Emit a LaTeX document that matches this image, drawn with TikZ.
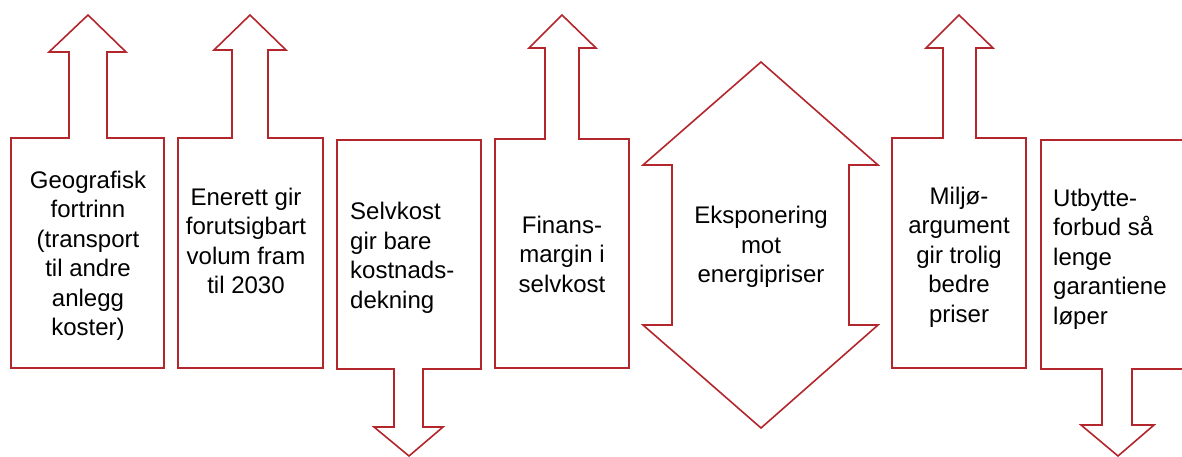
\documentclass[tikz,border=0pt]{standalone}
\usepackage{fontspec}
\setmainfont{Liberation Sans}
\definecolor{arrowred}{RGB}{178,38,44}
\tikzset{
  shapeline/.style={draw=arrowred, line width=1.6pt, line join=miter, fill=white},
  lbl/.style={font=\fontsize{24}{29.5}\selectfont, text=black, inner sep=0pt},
  lblc/.style={lbl, align=center},
  lbll/.style={lbl, align=left},
}
\begin{document}
\begin{tikzpicture}[x=1pt,y=-1pt]
\useasboundingbox (0,0) rectangle (1182,457);
\clip (0,0) rectangle (1182,457);
% shape 1
\draw[shapeline] (11,368) -- (11,138) -- (69,138) -- (69,52) -- (49,52) -- (88,15) -- (126,52) -- (107,52) -- (107,138) -- (164,138) -- (164,368) -- cycle;
% shape 2
\draw[shapeline] (178,368) -- (178,138) -- (232,138) -- (232,50) -- (214,50) -- (250,15) -- (286,50) -- (268,50) -- (268,138) -- (323,138) -- (323,368) -- cycle;
% shape 3 (down)
\draw[shapeline] (337,140) -- (481,140) -- (481,369) -- (423,369) -- (423,427) -- (443,427) -- (409,456) -- (374,427) -- (394,427) -- (394,369) -- (337,369) -- cycle;
% shape 4
\draw[shapeline] (495,368) -- (495,139) -- (545,139) -- (545,48) -- (529,48) -- (562,15) -- (596,48) -- (579,48) -- (579,139) -- (629,139) -- (629,368) -- cycle;
% shape 5 (up-down)
\draw[shapeline] (761,62) -- (878,165) -- (849,165) -- (849,325) -- (878,325) -- (761,428) -- (643,325) -- (672,325) -- (672,165) -- (643,165) -- cycle;
% shape 6
\draw[shapeline] (892,368) -- (892,138) -- (943,138) -- (943,48) -- (926,48) -- (959,15) -- (993,48) -- (976,48) -- (976,138) -- (1026,138) -- (1026,368) -- cycle;
% shape 7 (down, clipped)
\draw[shapeline] (1041,140) -- (1196,140) -- (1196,369) -- (1132,369) -- (1132,425) -- (1154,425) -- (1118,456) -- (1081,425) -- (1102,425) -- (1102,369) -- (1041,369) -- cycle;

\node[lblc] (t1) at (88,256) {Geografisk\\fortrinn\\(transport\\til andre\\anlegg\\koster)};
\node[lblc] (t2) at (246,241) {Enerett gir\\forutsigbart\\volum fram\\til 2030\hspace{14pt}};
\node[lbll, anchor=west] (t3) at (350,258) {Selvkost\\gir bare\\kostnads-\\dekning};
\node[lblc] (t4) at (562,254) {Finans-\\margin i\\selvkost};
\node[lblc] (t5) at (761,247) {Eksponering\\mot\\energipriser};
\node[lblc] (t6) at (959,257) {Miljø-\\argument\\gir trolig\\bedre\\priser};
\node[lbll, anchor=west] (t7) at (1053,259) {Utbytte-\\forbud så\\lenge\\garantiene\\løper};
\end{tikzpicture}
\end{document}
